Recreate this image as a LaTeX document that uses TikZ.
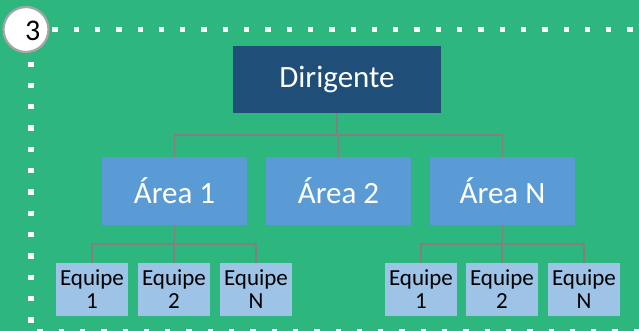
\documentclass[tikz,border=0pt]{standalone}
\usepackage{fontspec}
\setmainfont{Carlito}
\definecolor{bggreen}{RGB}{45,182,126}
\definecolor{headblue}{RGB}{31,78,121}
\definecolor{areablue}{RGB}{91,155,213}
\definecolor{teamblue}{RGB}{157,195,230}
\definecolor{linkgray}{RGB}{128,128,128}
\definecolor{ringgray}{RGB}{166,166,166}
\begin{document}
\begin{tikzpicture}[x=1pt,y=-1pt,
  headbox/.style={fill=headblue,text=white,minimum width=208pt,minimum height=67pt,inner sep=0pt,font=\fontsize{31}{37}\selectfont},
  areabox/.style={fill=areablue,text=white,minimum width=145pt,minimum height=67pt,inner sep=0pt,font=\fontsize{31}{37}\selectfont},
  teambox/.style={fill=teamblue,text=black,minimum width=72pt,minimum height=53pt,inner sep=0pt,align=center,font=\fontsize{23}{23}\selectfont},
  link/.style={draw=linkgray,line width=1.5pt},
  dotrow/.style={draw=white,line width=5.3pt,dash pattern=on 5.3pt off 16pt}]
\useasboundingbox (0,0) rectangle (639,331);
\fill[bggreen] (0,0) rectangle (639,331);

% dotted frame
\draw[dotrow] (52.3,29.5) -- (639,29.5);
\draw[dotrow] (31,61.6) -- (31,331);
\draw[dotrow] (37.3,332) -- (639,332);

% step number badge
\node[circle,fill=white,draw=ringgray,line width=2.2pt,minimum size=45pt,inner sep=0pt] (badge) at (26,29.5) {};
\node[font=\fontsize{30}{30}\selectfont,text=black,anchor=center] (num) at (32.7,31) {3};

% boxes
\node[headbox] (dir) at (337,79.5) {Dirigente};
\node[areabox] (a1) at (174.5,191) {Área 1};
\node[areabox] (a2) at (338.5,191) {Área 2};
\node[areabox] (an) at (502.5,191) {Área N};

\node[teambox] (e11) at (92,289.5) {Equipe\\1};
\node[teambox] (e12) at (174,289.5) {Equipe\\2};
\node[teambox] (e1n) at (256,289.5) {Equipe\\N};
\node[teambox] (e21) at (421,289.5) {Equipe\\1};
\node[teambox] (e22) at (502,289.5) {Equipe\\2};
\node[teambox] (e2n) at (584,289.5) {Equipe\\N};

% connectors
\coordinate (bus) at (337,135);
\coordinate (busl) at (174,244);
\coordinate (busr) at (502,244);
\draw[link] (dir.south) -- (dir.south |- bus);
\draw[link] (a1.north) -- (a1.north |- bus) -- (an.north |- bus) -- (an.north);
\draw[link] (a2.north) -- (a2.north |- bus);

\draw[link] (a1.south) -- (a1.south |- busl);
\draw[link] (e11.north) -- (e11.north |- busl) -- (e1n.north |- busl) -- (e1n.north);
\draw[link] (e12.north) -- (e12.north |- busl);

\draw[link] (an.south) -- (an.south |- busr);
\draw[link] (e21.north) -- (e21.north |- busr) -- (e2n.north |- busr) -- (e2n.north);
\draw[link] (e22.north) -- (e22.north |- busr);
\end{tikzpicture}
\end{document}
